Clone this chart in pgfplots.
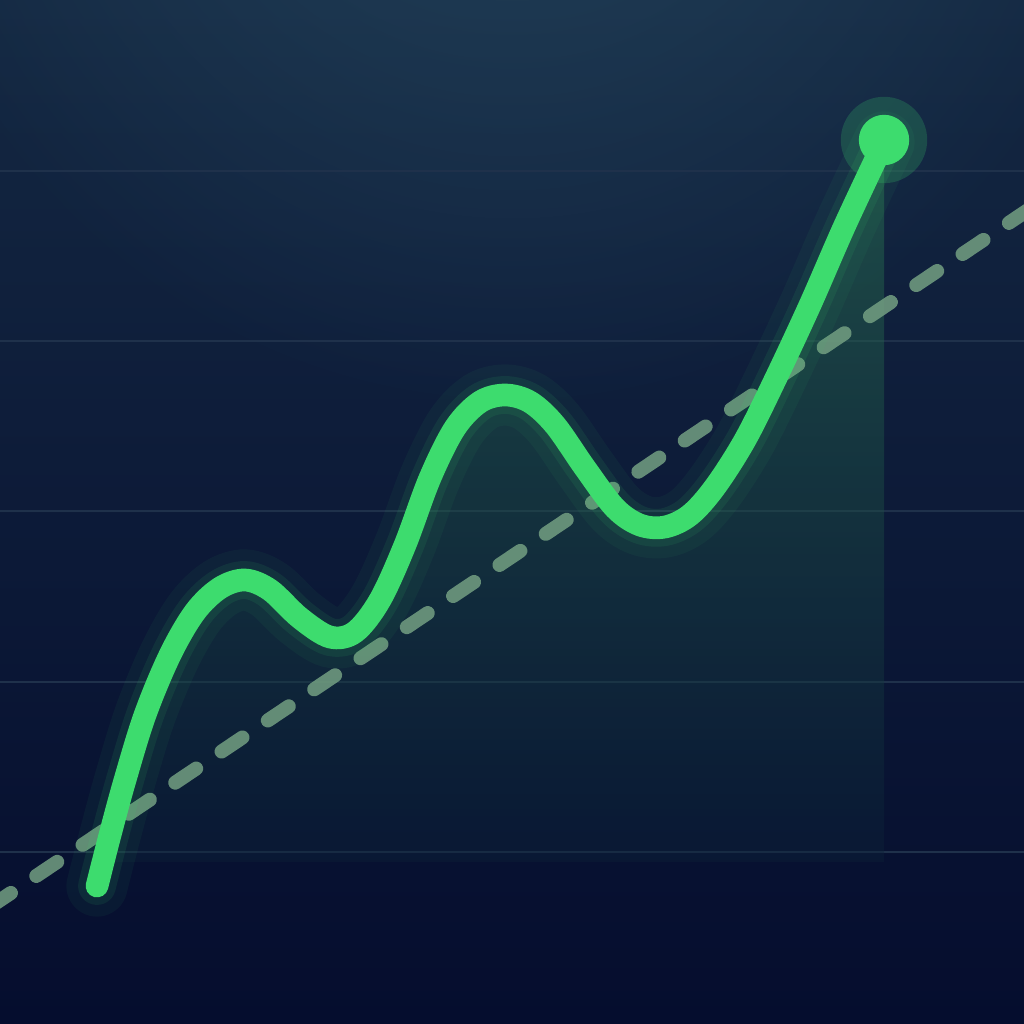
\documentclass[border=0pt]{standalone}
\usepackage{pgfplots}
\pgfplotsset{compat=1.18}
\usetikzlibrary{fadings}
\tikzfading[name=myglow, inner color=transparent!0, outer color=transparent!100]
\definecolor{bgtop}{HTML}{142842}
\definecolor{bgbot}{HTML}{050D2E}
\definecolor{glowc}{HTML}{2A4F66}
\definecolor{gridc}{HTML}{1F314B}
\definecolor{lineg}{HTML}{3DDC6E}
\definecolor{dashc}{HTML}{739F82}
\definecolor{filltop}{HTML}{308454}
\definecolor{fillbot}{HTML}{0C2038}
\begin{document}
\begin{tikzpicture}
\begin{axis}[
  width=10cm, height=10cm, scale only axis,
  xmin=0, xmax=1024, ymin=0, ymax=1024, y dir=reverse,
  hide axis, clip=true,
]
% background
\fill[top color=bgtop, bottom color=bgbot] (axis cs:0,0) rectangle (axis cs:1024,1024);
\fill[glowc, opacity=0.7, path fading=myglow] (axis cs:512,-300) ellipse [x radius=6.5cm, y radius=7cm];
% grid
\addplot[gridc, line width=0.6pt] coordinates {(0,171) (1024,171)};
\addplot[gridc, line width=0.6pt] coordinates {(0,341) (1024,341)};
\addplot[gridc, line width=0.6pt] coordinates {(0,511) (1024,511)};
\addplot[gridc, line width=0.6pt] coordinates {(0,682) (1024,682)};
\addplot[gridc, line width=0.6pt] coordinates {(0,852) (1024,852)};
% area under curve
\addplot[draw=none, top color=filltop, bottom color=fillbot, fill opacity=0.42] coordinates {
 (100,870) (110,835) (125,780) (145,715) (170,655) (195,612) (220,588) (245,580)
 (270,590) (300,618) (330,637) (355,632) (380,600) (405,545) (430,478) (455,428)
 (480,402) (505,395) (530,402) (555,425) (585,468) (615,508) (640,525) (665,527)
 (690,515) (715,487) (745,440) (775,380) (810,305) (845,225) (884,142) (884,862) (100,862)} -- cycle;
% dashed trend
\addplot[dashc, opacity=0.85, line width=3.9pt, line cap=round, dash pattern=on 7pt off 8.5pt] coordinates {(-10,907) (1034,206)};
% glow + line
\addplot[lineg, opacity=0.05, line width=17pt, smooth, tension=0.55, line cap=round] coordinates {
 (97,886) (110,835) (125,780) (145,715) (170,655) (195,612) (220,588) (245,580)
 (270,590) (300,618) (330,637) (355,632) (380,600) (405,545) (430,478) (455,428)
 (480,402) (505,395) (530,402) (555,425) (585,468) (615,508) (640,525) (665,527)
 (690,515) (715,487) (745,440) (775,380) (810,305) (845,225) (884,142)};
\addplot[lineg, opacity=0.09, line width=10.5pt, smooth, tension=0.55, line cap=round] coordinates {
 (97,886) (110,835) (125,780) (145,715) (170,655) (195,612) (220,588) (245,580)
 (270,590) (300,618) (330,637) (355,632) (380,600) (405,545) (430,478) (455,428)
 (480,402) (505,395) (530,402) (555,425) (585,468) (615,508) (640,525) (665,527)
 (690,515) (715,487) (745,440) (775,380) (810,305) (845,225) (884,142)};
\addplot[lineg, line width=6.3pt, smooth, tension=0.55, line cap=round] coordinates {
 (97,886) (110,835) (125,780) (145,715) (170,655) (195,612) (220,588) (245,580)
 (270,590) (300,618) (330,637) (355,632) (380,600) (405,545) (430,478) (455,428)
 (480,402) (505,395) (530,402) (555,425) (585,468) (615,508) (640,525) (665,527)
 (690,515) (715,487) (745,440) (775,380) (810,305) (845,225) (884,142)};
% end point
\addplot[lineg, only marks, mark=*, mark size=12pt, mark options={fill=lineg, draw opacity=0, fill opacity=0.2}] coordinates {(884,140)};
\addplot[lineg, only marks, mark=*, mark size=7pt, mark options={fill=lineg, draw opacity=0}] coordinates {(884,140)};
\end{axis}
\pgfresetboundingbox
\path (current axis.south west) rectangle (current axis.north east);
\end{tikzpicture}
\end{document}
